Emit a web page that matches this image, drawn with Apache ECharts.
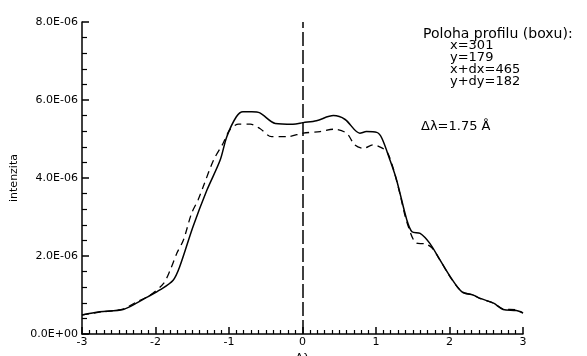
<!DOCTYPE html>
<html>
<head>
<meta charset="utf-8">
<script src="https://cdn.jsdelivr.net/npm/echarts@6/dist/echarts.min.js"></script>
<style>
  html, body { margin: 0; padding: 0; background: #ffffff; }
  #chart { width: 587px; height: 356px; }
</style>
</head>
<body>
<div id="chart"></div>
<script>
// profile values, intensity in units of 1E-06
var solidX = [-3.0, -2.76, -2.44, -2.26, -2.10, -1.94, -1.76, -1.67, -1.49, -1.30, -1.12, -1.03, -0.90, -0.81, -0.69, -0.58, -0.37, -0.13, 0.01, 0.19, 0.42, 0.58, 0.78, 0.87, 1.01, 1.08, 1.19, 1.28, 1.42, 1.49, 1.60, 1.73, 1.87, 2.01, 2.17, 2.32, 2.41, 2.60, 2.73, 2.91, 3.0]
var solidY = [0.49, 0.57, 0.63, 0.79, 0.96, 1.13, 1.38, 1.73, 2.75, 3.69, 4.46, 5.06, 5.57, 5.70, 5.70, 5.67, 5.40, 5.38, 5.42, 5.47, 5.60, 5.50, 5.15, 5.19, 5.17, 5.02, 4.46, 3.95, 2.92, 2.62, 2.58, 2.33, 1.90, 1.47, 1.08, 1.00, 0.92, 0.79, 0.63, 0.60, 0.54]
var dashX = [-3.0, -2.76, -2.44, -2.26, -2.07, -1.89, -1.80, -1.71, -1.62, -1.51, -1.42, -1.35, -1.21, -1.08, -0.99, -0.87, -0.71, -0.58, -0.42, -0.21, 0.01, 0.24, 0.42, 0.60, 0.71, 0.83, 0.96, 1.05, 1.15, 1.24, 1.33, 1.42, 1.55, 1.67, 1.76, 1.87, 2.01, 2.17, 2.32, 2.41, 2.60, 2.73, 2.91, 3.0]
var dashY = [0.49, 0.56, 0.64, 0.82, 1.00, 1.30, 1.64, 2.07, 2.41, 3.09, 3.44, 3.78, 4.46, 4.89, 5.23, 5.38, 5.38, 5.27, 5.06, 5.06, 5.15, 5.19, 5.25, 5.15, 4.85, 4.76, 4.85, 4.80, 4.67, 4.21, 3.56, 2.87, 2.33, 2.31, 2.21, 1.90, 1.46, 1.08, 1.00, 0.91, 0.79, 0.64, 0.62, 0.54]

var infoLines = ['x=301', 'y=179', 'x+dx=465', 'y+dy=182']

function pairs(xs, ys) {
  var out = []
  for (let i = 0; i < xs.length; i++) {
    out.push([xs[i], ys[i] * 1e-6])
  }
  return out
}

function expLabel(v) {
  if (v === 0) return '0.0E+00'
  var s = v.toExponential(1).toUpperCase()  // 8.0E-6
  var m = s.split('E')
  var e = parseInt(m[1], 10)
  var sign = e < 0 ? '-' : '+'
  var a = Math.abs(e)
  return m[0] + 'E' + sign + (a < 10 ? '0' + a : a)
}

var font = 'DejaVu Sans, sans-serif'
var myChart = echarts.init(document.getElementById('chart'))

var graphics = [
  { type: 'text', left: 423, top: 27, style: { text: 'Poloha profilu (boxu):', font: '14px ' + font, fill: '#000' } }
]
for (let i = 0; i < infoLines.length; i++) {
  graphics.push({ type: 'text', left: 450, top: 39 + i * 12, style: { text: infoLines[i], font: '13px ' + font, fill: '#000' } })
}
graphics.push({ type: 'text', left: 421, top: 120, style: { text: 'Δλ=1.75 Å', font: '13px ' + font, fill: '#000' } })

var option = {
  animation: false,
  backgroundColor: '#ffffff',
  grid: { left: 82, right: 64, top: 22, bottom: 22, outerBoundsMode: 'none' },
  xAxis: {
    type: 'value',
    min: -3,
    max: 3,
    interval: 1,
    name: 'Δλ',
    nameLocation: 'middle',
    nameGap: 16,
    nameTextStyle: { color: '#000', fontSize: 11, fontFamily: font },
    axisLine: { lineStyle: { color: '#000', width: 1.5 } },
    axisTick: { inside: true, length: 7, lineStyle: { color: '#000', width: 1.5 } },
    minorTick: { show: true, splitNumber: 10, length: 4, lineStyle: { color: '#000', width: 1.2 } },
    axisLabel: { color: '#000', fontSize: 11, fontFamily: font, margin: 3 },
    splitLine: { show: false }
  },
  yAxis: {
    type: 'value',
    min: 0,
    max: 8e-6,
    interval: 2e-6,
    name: 'intenzita',
    nameLocation: 'middle',
    nameGap: 60,
    nameRotate: 90,
    nameTextStyle: { color: '#000', fontSize: 11, fontFamily: font },
    axisLine: { show: true, onZero: false, lineStyle: { color: '#000', width: 1.5 } },
    axisTick: { show: true, inside: true, length: 7, lineStyle: { color: '#000', width: 1.5 } },
    minorTick: { show: true, splitNumber: 5, length: 5, lineStyle: { color: '#000', width: 1.2 } },
    axisLabel: { color: '#000', fontSize: 11, fontFamily: font, margin: 4, formatter: expLabel },
    splitLine: { show: false }
  },
  graphic: graphics,
  series: [
    {
      type: 'line',
      data: pairs(solidX, solidY),
      showSymbol: false,
      smooth: 0.3,
      lineStyle: { color: '#000', width: 1.5 },
      markLine: {
        silent: true,
        symbol: 'none',
        label: { show: false },
        lineStyle: { color: '#000', width: 1.5, type: [14, 4] },
        data: [[{ coord: [0, 0] }, { coord: [0, 8e-6] }]]
      }
    },
    {
      type: 'line',
      data: pairs(dashX, dashY),
      showSymbol: false,
      smooth: 0.3,
      lineStyle: { color: '#000', width: 1.3, type: [7, 5] }
    }
  ]
}
myChart.setOption(option)
</script>
</body>
</html>
